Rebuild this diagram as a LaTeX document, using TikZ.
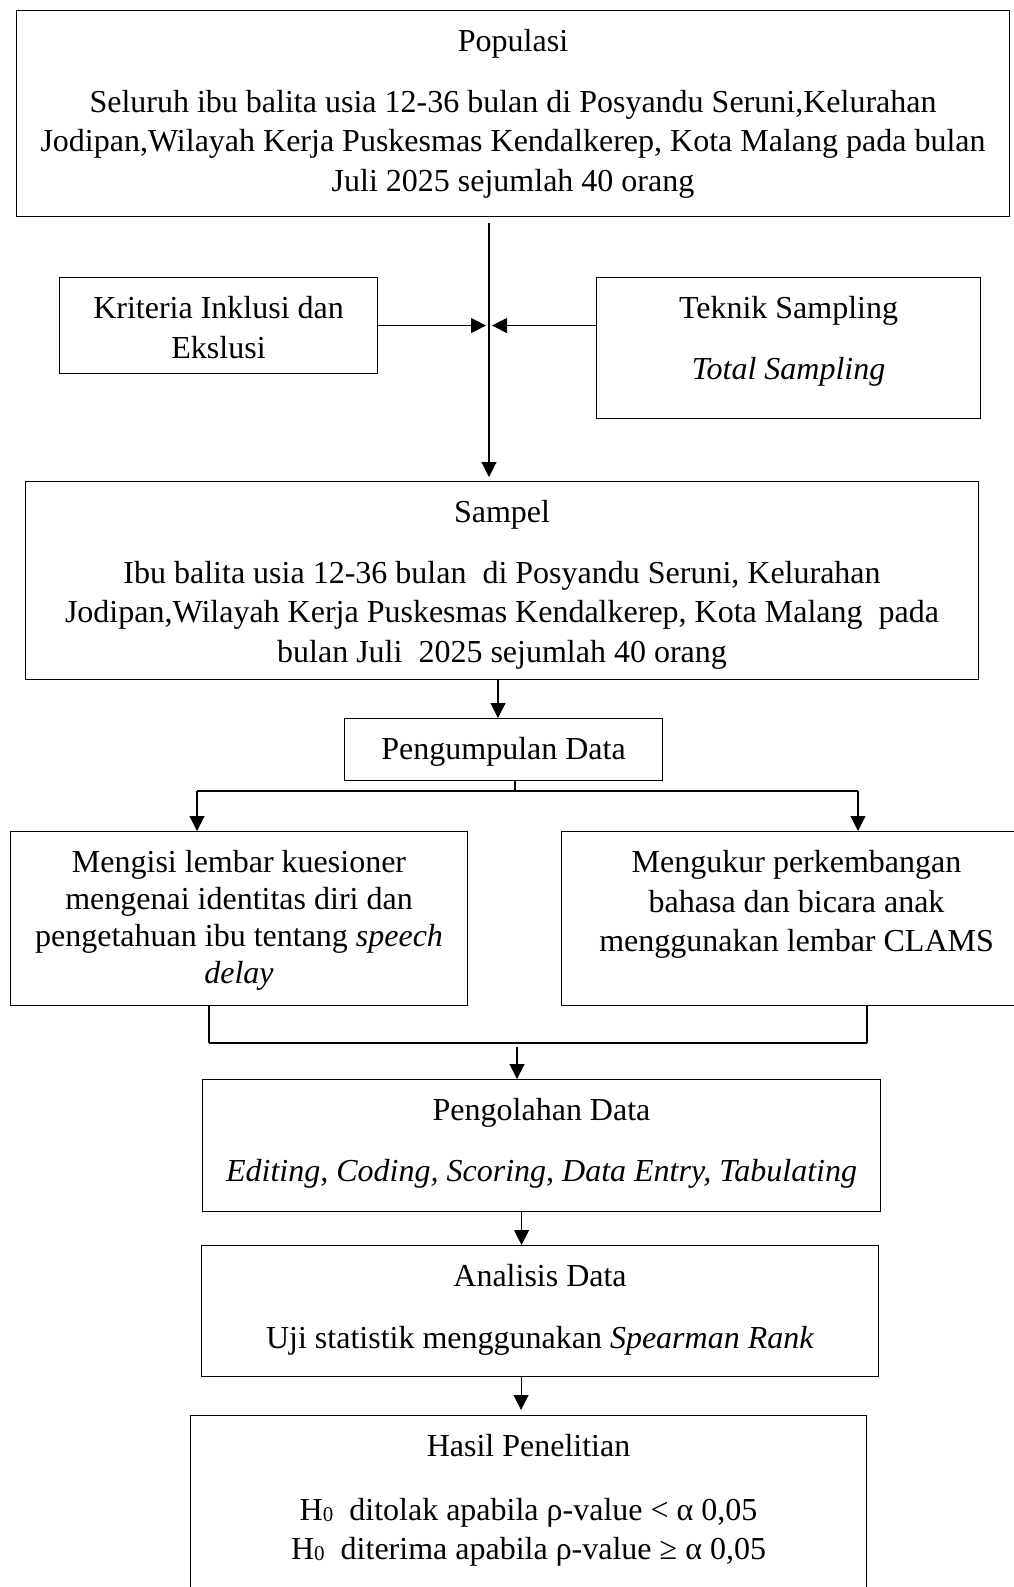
\documentclass[tikz,border=0pt]{standalone}
\usepackage{fontspec}
\setmainfont{Liberation Serif}
\usetikzlibrary{arrows.meta}
\newcommand{\isi}[3]{\parbox[c][#2pt][t]{#1pt}{\centering\rule{0pt}{41pt}#3}}
\newcommand{\hnol}{H\raisebox{-1pt}{\fontsize{21}{21}\selectfont 0}}

\begin{document}
\begin{tikzpicture}[x=1pt, y=-1pt, line width=1.1pt, >={Triangle[length=15pt,width=15pt]},
  kotak/.style={draw, inner sep=0pt, anchor=north west, font=\fontsize{32}{39.5}\selectfont}]
  \path[use as bounding box, clip] (0,0) rectangle (1014,1587);

  % kotak-kotak alur
  \node[kotak] (pop) at (16,10) {\isi{993}{206}{Populasi\\[21pt]
    Seluruh ibu balita usia 12-36 bulan di Posyandu Seruni,Kelurahan\\
    Jodipan,Wilayah Kerja Puskesmas Kendalkerep, Kota Malang pada bulan\\
    Juli 2025 sejumlah 40 orang}};
  \node[kotak] (kriteria) at (59,277) {\isi{318}{96}{Kriteria Inklusi dan\\ Ekslusi}};
  \node[kotak] (teknik) at (596,277) {\isi{384}{141}{Teknik Sampling\\[21pt] \textit{Total Sampling}}};
  \node[kotak] (sampel) at (25,481) {\isi{953}{198}{Sampel\\[21pt]
    Ibu balita usia 12-36 bulan\ \ di Posyandu Seruni, Kelurahan\\
    Jodipan,Wilayah Kerja Puskesmas Kendalkerep, Kota Malang\ \ pada\\
    bulan Juli\ \ 2025 sejumlah 40 orang}};
  \node[kotak] (kumpul) at (344,718) {\isi{318}{62}{Pengumpulan Data}};
  \node[kotak] (kuesioner) at (10,831) {\isi{457}{174}{\fontsize{32}{37}\selectfont
    Mengisi lembar kuesioner\\ mengenai identitas diri dan\\
    pengetahuan ibu tentang \textit{speech}\\ \textit{delay}}};
  \node[kotak] (clams) at (561,831) {\isi{470}{174}{Mengukur perkembangan\\
    bahasa dan bicara anak\\ menggunakan lembar CLAMS}};
  \node[kotak] (olah) at (202,1079) {\isi{678}{132}{Pengolahan Data\\[21pt]
    \textit{Editing, Coding, Scoring, Data Entry, Tabulating}}};
  \node[kotak] (analisis) at (201,1245) {\isi{677}{131}{Analisis Data\\[22pt]
    Uji statistik menggunakan \textit{Spearman Rank}}};
  \node[kotak] (hasil) at (190,1415) {\isi{676}{200}{Hasil Penelitian\\[24pt]
    \hnol\ \ ditolak apabila ρ-value < α 0,05\\
    \hnol\ \ diterima apabila ρ-value ≥ α 0,05}};

  % garis dan panah
  \coordinate (atas) at (489,223);
  \draw[->] (atas) -- ([yshift=4pt]atas |- sampel.north);
  \draw[->, shorten >=3pt] (kriteria.east) -- (kriteria.east -| atas);
  \draw[->, shorten >=3pt] (teknik.west |- kriteria.east) -- (kriteria.east -| atas);
  \draw[->] (sampel.south -| 498,0) -- (kumpul.north -| 498,0);

  \coordinate (cabang) at (515,791);
  \coordinate (kiri) at (197,791);
  \coordinate (kanan) at (858,791);
  \draw (kumpul.south -| cabang) -- (cabang);
  \draw (kiri) -- (kanan);
  \draw[->] (kiri) -- (kiri |- kuesioner.north);
  \draw[->] (kanan) -- (kanan |- clams.north);

  \coordinate (gabung1) at (209,1043);
  \coordinate (gabung2) at (867,1043);
  \coordinate (gabung) at (517,1043);
  \draw (kuesioner.south -| gabung1) -- (gabung1);
  \draw (clams.south -| gabung2) -- (gabung2);
  \draw[line width=2pt] (gabung1) -- (gabung2);
  \draw[->] ([yshift=-4pt]gabung) -- (gabung |- olah.north);

  \draw[->] ([xshift=-20pt]olah.south) -- ([xshift=-20pt]olah.south |- analisis.north);
  \draw[->] ([xshift=-19pt]analisis.south) -- ([xshift=-19pt,yshift=5pt]analisis.south |- hasil.north);
\end{tikzpicture}
\end{document}
